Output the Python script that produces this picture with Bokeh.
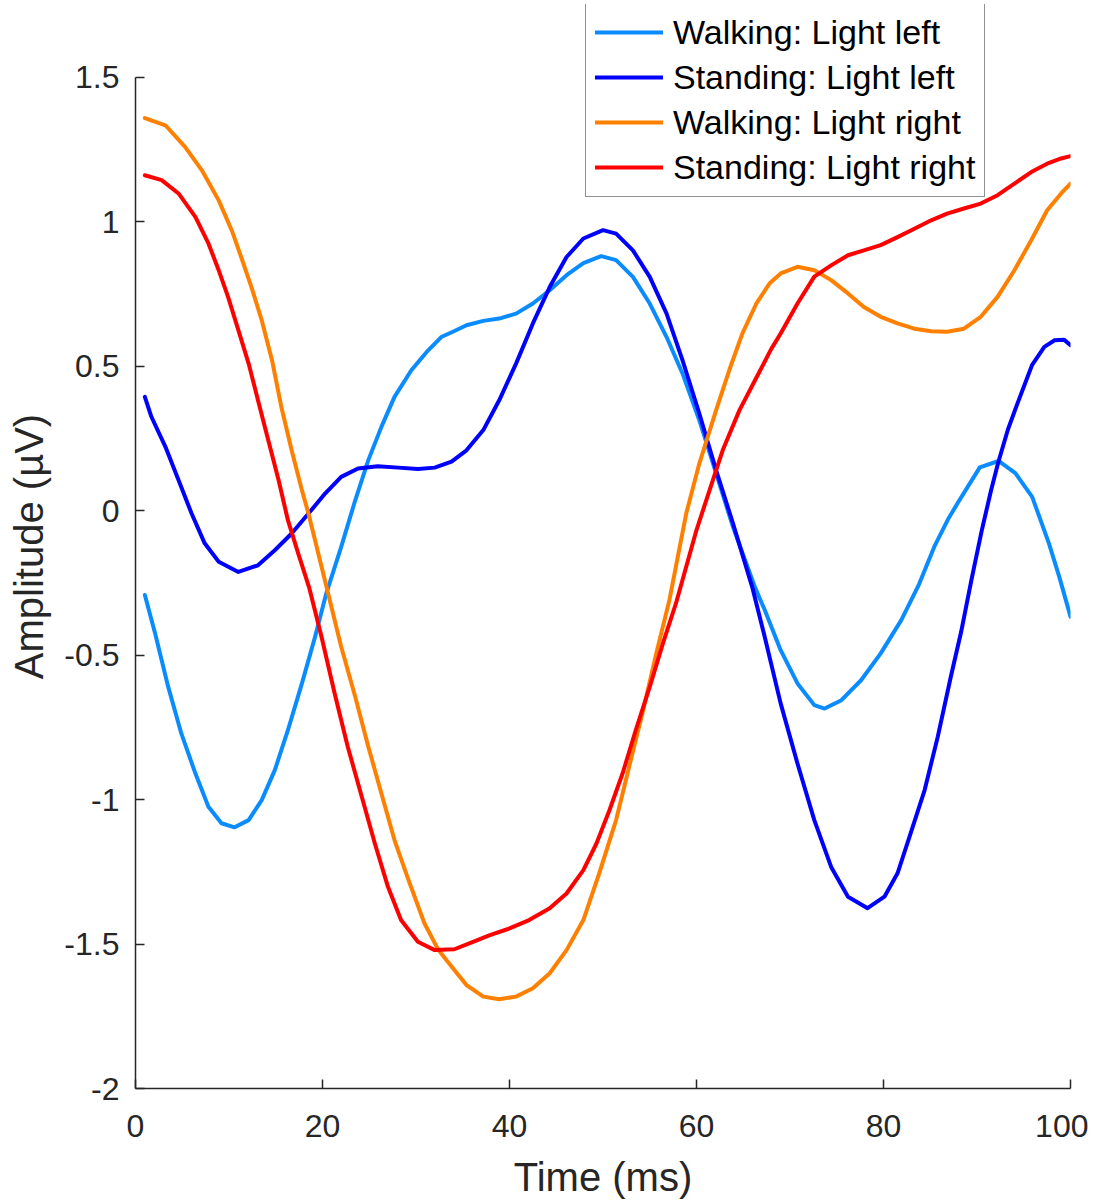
from bokeh.plotting import figure
from bokeh.models import Legend, LegendItem, FixedTicker, Range1d
from bokeh.embed import file_html
from bokeh.resources import INLINE

# ---- data ----
walk_left_t = [1, 2.1, 3.5, 4.9, 6.4, 7.8, 9.2, 10.6, 12.1, 13.5, 14.9, 16.3, 17.8, 19.2, 20.4,
               22.0, 23.5, 24.9, 26.3, 27.7, 29.5, 31.3, 32.7, 34.0, 35.4, 37.2, 38.9, 40.7, 42.5,
               44.3, 46.1, 47.9, 49.8, 51.4, 53.2, 55.0, 56.8, 58.5, 60.3, 62.1, 63.9, 66.3, 67.3,
               69.0, 70.8, 72.6, 73.7, 75.5, 77.6, 79.7, 81.9, 83.8, 85.5, 86.9, 88.0, 90.3, 92.3,
               94.1, 95.9, 97.7, 98.8, 100]
walk_left_v = [-0.292, -0.425, -0.61, -0.771, -0.909, -1.025, -1.082, -1.096, -1.071, -1.002, -0.898,
               -0.76, -0.598, -0.437, -0.287, -0.125, 0.036, 0.175, 0.29, 0.394, 0.486, 0.555, 0.601,
               0.62, 0.642, 0.657, 0.665, 0.682, 0.717, 0.763, 0.815, 0.857, 0.881, 0.867, 0.809,
               0.717, 0.601, 0.475, 0.313, 0.129, -0.056, -0.269, -0.344, -0.483, -0.598, -0.673,
               -0.685, -0.656, -0.587, -0.494, -0.379, -0.255, -0.12, -0.03, 0.03, 0.15, 0.172,
               0.13, 0.048, -0.114, -0.229, -0.367]

stand_left_t = [1, 1.7, 3.2, 4.6, 6.0, 7.4, 8.9, 11.0, 13.1, 14.9, 16.7, 18.5, 20.3, 22.0, 23.8,
                25.9, 28.1, 30.2, 32.0, 33.8, 35.4, 37.2, 38.9, 40.7, 42.5, 44.3, 46.1, 47.9, 50.0,
                51.4, 53.2, 55.0, 56.8, 58.5, 60.3, 62.1, 63.9, 66.0, 67.3, 69.0, 70.8, 72.6, 74.4,
                76.2, 78.3, 80.1, 81.5, 82.9, 84.4, 85.8, 87.2, 88.3, 89.4, 90.5, 91.5, 92.3, 93.3,
                94.2, 95.9, 97.2, 98.3, 99.3, 100]
stand_left_v = [0.394, 0.325, 0.221, 0.106, -0.01, -0.113, -0.177, -0.212, -0.189, -0.137, -0.079,
                -0.01, 0.06, 0.117, 0.146, 0.154, 0.149, 0.144, 0.149, 0.17, 0.209, 0.279, 0.382,
                0.509, 0.648, 0.774, 0.878, 0.942, 0.971, 0.959, 0.901, 0.809, 0.682, 0.521, 0.336,
                0.14, -0.044, -0.269, -0.437, -0.667, -0.875, -1.071, -1.233, -1.336, -1.376,
                -1.336, -1.255, -1.117, -0.967, -0.783, -0.575, -0.42, -0.24, -0.07, 0.07, 0.17,
                0.28, 0.36, 0.505, 0.567, 0.59, 0.592, 0.573]

walk_right_t = [1, 3.2, 5.3, 7.1, 8.9, 10.3, 11.3, 12.4, 13.5, 14.6, 15.6, 16.7, 17.8, 18.5, 19.9,
                22.0, 23.5, 24.9, 26.3, 27.7, 29.2, 30.9, 32.4, 34.1, 35.4, 37.2, 38.9, 40.7, 42.5,
                44.3, 46.1, 47.9, 49.6, 51.4, 52.8, 54.3, 55.7, 57.1, 58.9, 60.3, 62.1, 63.5, 64.9,
                66.4, 67.8, 69.0, 70.8, 72.6, 74.4, 76.2, 77.9, 79.7, 81.5, 83.3, 85.1, 86.8, 88.6,
                90.4, 92.2, 94.0, 95.8, 97.5, 99.0, 100]
walk_right_v = [1.359, 1.334, 1.259, 1.178, 1.074, 0.97, 0.878, 0.774, 0.659, 0.521, 0.359, 0.209,
                0.071, -0.01, -0.194, -0.471, -0.644, -0.817, -0.979, -1.14, -1.279, -1.428, -1.521,
                -1.59, -1.642, -1.682, -1.691, -1.682, -1.653, -1.601, -1.521, -1.417, -1.255,
                -1.071, -0.886, -0.69, -0.494, -0.31, -0.01, 0.163, 0.348, 0.486, 0.613, 0.717,
                0.786, 0.821, 0.844, 0.832, 0.798, 0.752, 0.705, 0.671, 0.648, 0.63, 0.621, 0.619,
                0.63, 0.671, 0.74, 0.832, 0.936, 1.04, 1.098, 1.132]

stand_right_t = [1, 2.8, 4.6, 6.4, 7.8, 8.9, 9.9, 11.0, 12.1, 13.1, 14.2, 15.3, 16.3, 17.4, 18.6,
                 19.9, 21.3, 22.7, 24.2, 25.6, 27.0, 28.4, 30.2, 32.0, 34.1, 35.7, 37.9, 40.0, 42.1,
                 44.3, 46.1, 47.9, 49.3, 50.7, 52.1, 53.5, 55.0, 56.4, 57.8, 60.0, 61.4, 62.8, 64.6,
                 66.4, 68.0, 69.0, 70.8, 72.6, 74.4, 76.2, 77.9, 79.7, 81.5, 83.3, 85.1, 86.8, 88.6,
                 90.4, 92.2, 94.0, 95.8, 97.5, 99.0, 100]
stand_right_v = [1.161, 1.144, 1.098, 1.017, 0.925, 0.832, 0.74, 0.625, 0.509, 0.382, 0.244, 0.106,
                 -0.033, -0.148, -0.269, -0.437, -0.633, -0.817, -0.99, -1.152, -1.302, -1.417,
                 -1.492, -1.521, -1.518, -1.498, -1.469, -1.446, -1.417, -1.376, -1.325, -1.244,
                 -1.152, -1.036, -0.909, -0.76, -0.61, -0.46, -0.321, -0.067, 0.071, 0.209, 0.348,
                 0.46, 0.56, 0.613, 0.717, 0.81, 0.849, 0.884, 0.901, 0.919, 0.947, 0.976, 1.005,
                 1.028, 1.046, 1.063, 1.092, 1.132, 1.172, 1.201, 1.219, 1.227]

labels = ["Walking: Light left", "Standing: Light left", "Walking: Light right", "Standing: Light right"]
colors = ["#0A8CFF", "#0000FF", "#FF8000", "#FF0000"]

x_ticks = [0, 20, 40, 60, 80, 100]
y_ticks = [-2, -1.5, -1, -0.5, 0, 0.5, 1, 1.5]
y_tick_labels = ["-2", "-1.5", "-1", "-0.5", "0", "0.5", "1", "1.5"]

FONT = "Liberation Sans"
AX = "#262626"

p = figure(frame_width=935, frame_height=1084, output_backend="svg", toolbar_location=None,
           x_range=Range1d(0, 100), y_range=Range1d(-2, 1.752),
           min_border_left=135, min_border_right=18, min_border_top=4, min_border_bottom=108,
           background_fill_color="white", border_fill_color="white")
p.outline_line_color = None
p.xgrid.visible = False
p.ygrid.visible = False

series = [(walk_left_t, walk_left_v), (stand_left_t, stand_left_v),
          (walk_right_t, walk_right_v), (stand_right_t, stand_right_v)]
renderers = []
for (t, v), c in zip(series, colors):
    r = p.line(t, v, line_color=c, line_width=4, line_join="round", line_cap="round")
    renderers.append(r)

for ax in (p.xaxis[0], p.yaxis[0]):
    ax.axis_line_color = AX
    ax.axis_line_width = 1.5
    ax.major_tick_line_color = AX
    ax.major_tick_line_width = 1.5
    ax.major_tick_in = 9
    ax.major_tick_out = 0
    ax.minor_tick_line_color = None
    ax.major_label_text_font = FONT
    ax.major_label_text_font_size = "32px"
    ax.major_label_text_color = AX
    ax.axis_label_text_font = FONT
    ax.axis_label_text_font_size = "40px"
    ax.axis_label_text_font_style = "normal"
    ax.axis_label_text_color = AX

p.xaxis.ticker = FixedTicker(ticks=x_ticks)
p.xaxis.bounds = (0, 100)
p.xaxis.major_label_overrides = {t: str(t) for t in x_ticks}
p.xaxis.major_label_standoff = 26
p.xaxis.axis_label = "Time (ms)"
p.xaxis.axis_label_standoff = 15

p.yaxis.ticker = FixedTicker(ticks=y_ticks)
p.yaxis.bounds = (-2, 1.5)
p.yaxis.major_label_overrides = {t: s for t, s in zip(y_ticks, y_tick_labels)}
p.yaxis.major_label_standoff = 16
p.yaxis.axis_label = "Amplitude (µV)"
p.yaxis.axis_label_standoff = 10

legend = Legend(items=[LegendItem(label=l, renderers=[r]) for l, r in zip(labels, renderers)],
                location=(450, 891))
legend.label_text_font = FONT
legend.label_text_font_size = "34px"
legend.label_text_color = "black"
legend.glyph_width = 68
legend.glyph_height = 40
legend.label_height = 40
legend.label_standoff = 10
legend.spacing = 5
legend.padding = 9
legend.margin = 0
legend.border_line_color = AX
legend.border_line_width = 1.5
legend.background_fill_color = "white"
legend.background_fill_alpha = 1.0
p.add_layout(legend)

open("out.html", "w").write(file_html(p, INLINE))
